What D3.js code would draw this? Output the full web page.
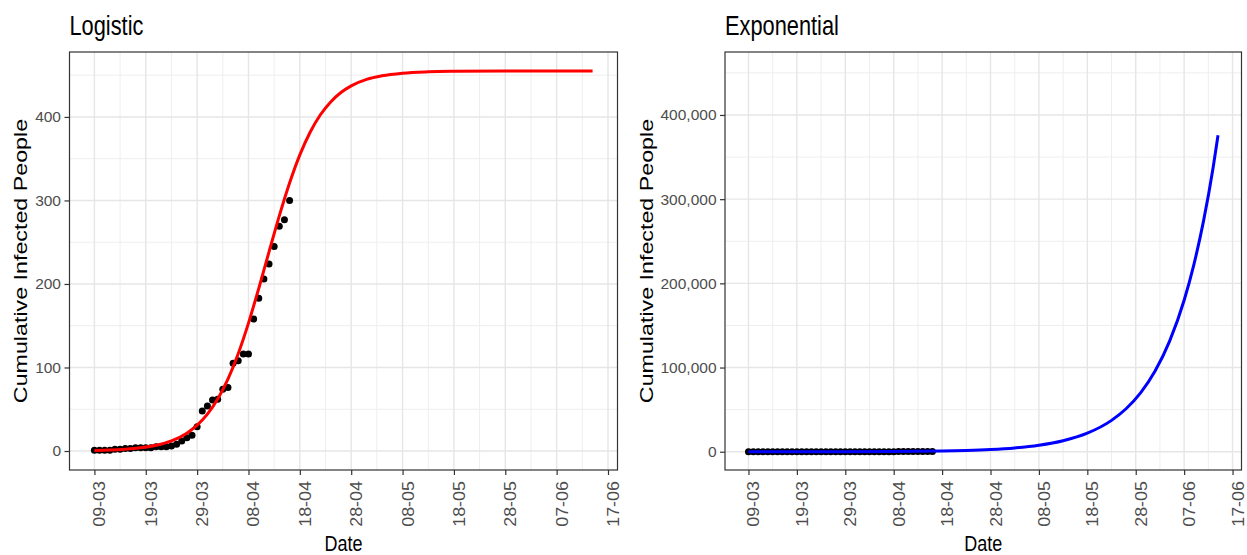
<!DOCTYPE html>
<html>
<head>
<meta charset="utf-8">
<script src="https://cdn.jsdelivr.net/npm/d3@7"></script>
<style>
  html, body { margin: 0; padding: 0; background: #ffffff; }
  svg { display: block; font-family: "Liberation Sans", Arial, sans-serif; }
</style>
</head>
<body>
<script>
// ---------------- DATA ----------------
const startDate = "2020-03-09";
// observed cumulative infected people, one value per day starting 09-03
const observed = [1, 1, 1, 1, 2, 2, 3, 3, 4, 4, 4, 4, 5, 5, 5, 6, 8, 12, 16, 19,
  29, 48, 54, 61, 62, 74, 76, 105, 108, 116, 116, 158, 183, 206, 224, 245, 269, 277, 300];

// fitted logistic curve (days after start, value)
const logisticDays = [0, 3, 6, 9, 12, 15, 18, 20, 22, 24, 26, 28, 30, 32, 34, 36, 38, 40,
  42, 44, 46, 48, 50, 53, 56, 60, 65, 70, 80, 90, 97];
const logisticValues = [0.7, 1.2, 2.2, 3.9, 6.9, 12.2, 21.4, 30.9, 44.1, 62.2, 86.1, 116.5,
  153.1, 194.6, 238.5, 281.6, 320.9, 354.6, 381.7, 402.6, 418, 429.2, 437.2, 444.9, 449.3,
  452.4, 454, 454.6, 455, 455, 455];

// fitted exponential curve
const expDays = [0, 10, 20, 30, 40, 45, 50, 55, 60, 65, 70, 75, 78, 81, 84, 87, 90, 92, 94, 96, 97];
const expValues = [14, 40, 116, 330, 944, 1596, 2699, 4562, 7711, 13036, 22033, 37240, 51035,
  69940, 95840, 131350, 179950, 222000, 273870, 337860, 376000];

// tick labels
const xTickLabels = ["09-03", "19-03", "29-03", "08-04", "18-04", "28-04", "08-05", "18-05",
  "28-05", "07-06", "17-06"];
const xMinorLabels = ["14-03", "24-03", "03-04", "13-04", "23-04", "03-05", "13-05", "23-05",
  "02-06", "12-06"];
const yTicksLogistic = [0, 100, 200, 300, 400];
const yMinorLogistic = [50, 150, 250, 350, 450];
const yTicksExp = [0, 100000, 200000, 300000, 400000];
const yMinorExp = [50000, 150000, 250000, 350000, 450000];

const titles = ["Logistic", "Exponential"];
const yTitle = "Cumulative Infected People";
const xTitle = "Date";

// ---------------- HELPERS ----------------
const parseStart = d3.utcParse("%Y-%m-%d");
const t0 = parseStart(startDate);
const dayToDate = d => new Date(t0.getTime() + d * 86400000);
const parseTick = s => d3.utcParse("%d-%m-%Y")(s + "-2020");

const obsData = observed.map((v, i) => ({ date: dayToDate(i), value: v }));
const logData = logisticDays.map((d, i) => ({ date: dayToDate(d), value: logisticValues[i] }));
const expData = expDays.map((d, i) => ({ date: dayToDate(d), value: expValues[i] }));

const W = 1247, H = 555;
const svg = d3.select("body").append("svg").attr("width", W).attr("height", H);
svg.append("rect").attr("width", W).attr("height", H).attr("fill", "#fff");

const xDomain = [dayToDate(-4.85), dayToDate(101.85)];

function drawPanel(cfg) {
  const { left, right, top, bottom } = cfg;
  const x = d3.scaleUtc().domain(xDomain).range([left, right]);
  const y = d3.scaleLinear().domain(cfg.yDomain).range([bottom, top]);
  const g = svg.append("g");

  // grid (minor then major)
  g.selectAll(".ymin").data(cfg.yMinor).enter().append("line")
    .attr("x1", left).attr("x2", right).attr("y1", d => y(d)).attr("y2", d => y(d))
    .attr("stroke", "#eeeeee").attr("stroke-width", 1);
  g.selectAll(".xmin").data(xMinorLabels.map(parseTick)).enter().append("line")
    .attr("y1", top).attr("y2", bottom).attr("x1", d => x(d)).attr("x2", d => x(d))
    .attr("stroke", "#eeeeee").attr("stroke-width", 1);
  g.selectAll(".ymaj").data(cfg.yTicks).enter().append("line")
    .attr("x1", left).attr("x2", right).attr("y1", d => y(d)).attr("y2", d => y(d))
    .attr("stroke", "#e6e6e6").attr("stroke-width", 1.4);
  g.selectAll(".xmaj").data(xTickLabels.map(parseTick)).enter().append("line")
    .attr("y1", top).attr("y2", bottom).attr("x1", d => x(d)).attr("x2", d => x(d))
    .attr("stroke", "#e6e6e6").attr("stroke-width", 1.4);

  // points
  g.selectAll(".pt").data(obsData).enter().append("circle")
    .attr("cx", d => x(d.date)).attr("cy", d => y(d.value)).attr("r", 3.5)
    .attr("fill", "#000");

  // fitted curve
  const line = d3.line().x(d => x(d.date)).y(d => y(d.value)).curve(d3.curveMonotoneX);
  g.append("path").datum(cfg.curve).attr("d", line)
    .attr("fill", "none").attr("stroke", cfg.color).attr("stroke-width", 3);

  // border
  g.append("rect").attr("x", left).attr("y", top).attr("width", right - left)
    .attr("height", bottom - top).attr("fill", "none").attr("stroke", "#333").attr("stroke-width", 1.2);

  // y axis
  const ya = g.append("g").attr("transform", `translate(${left},0)`)
    .call(d3.axisLeft(y).tickValues(cfg.yTicks).tickSize(5).tickPadding(4)
      .tickFormat(cfg.yFormat));
  ya.select(".domain").remove();
  ya.selectAll("line").attr("stroke", "#333").attr("stroke-width", 1.2);
  ya.selectAll("text").attr("fill", "#4d4d4d").attr("font-size", 15.5)
    .attr("font-family", "Liberation Sans, Arial, sans-serif").attr("x", -8.5);

  // x axis
  const xa = g.append("g").attr("transform", `translate(0,${bottom})`)
    .call(d3.axisBottom(x).tickValues(xTickLabels.map(parseTick)).tickSize(5)
      .tickFormat(d3.utcFormat("%d-%m")));
  xa.select(".domain").remove();
  xa.selectAll("line").attr("stroke", "#333").attr("stroke-width", 1.2);
  xa.selectAll("text").attr("fill", "#4d4d4d").attr("font-size", 16)
    .attr("font-family", "Liberation Sans, Arial, sans-serif")
    .attr("y", null).attr("dy", null).attr("text-anchor", "end")
    .attr("transform", "translate(10.5,11) rotate(-90) scale(1.12,1)");

  // titles
  svg.append("text").attr("transform", `translate(${left},35) scale(1,1.27)`)
    .attr("font-size", 21.8).attr("fill", "#000").text(cfg.title);
  svg.append("text").attr("transform", `translate(${(left + right) / 2},551) scale(1,1.2)`)
    .attr("text-anchor", "middle").attr("font-size", 18).attr("fill", "#000").text(xTitle);
  svg.append("text")
    .attr("transform", `translate(${cfg.yTitleX},${(top + bottom) / 2}) rotate(-90) scale(1.25,1)`)
    .attr("text-anchor", "middle").attr("font-size", 18.6).attr("fill", "#000").text(yTitle);
}

drawPanel({
  left: 69.5, right: 617.5, top: 52, bottom: 470,
  yDomain: [-22.75, 477.75], yTicks: yTicksLogistic, yMinor: yMinorLogistic,
  yFormat: d3.format("d"), curve: logData, color: "#ff0000",
  title: titles[0], yTitleX: 26.5
});
drawPanel({
  left: 725, right: 1241.5, top: 52, bottom: 470,
  yDomain: [-21700, 474800], yTicks: yTicksExp, yMinor: yMinorExp,
  yFormat: d3.format(","), curve: expData, color: "#0000ff",
  title: titles[1], yTitleX: 653
});
</script>
</body>
</html>
